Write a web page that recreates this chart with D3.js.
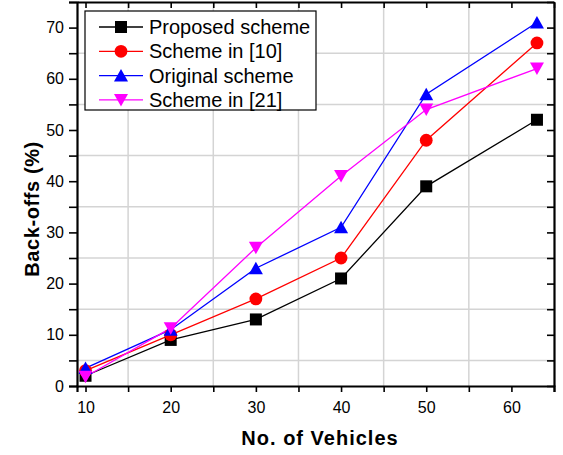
<!DOCTYPE html>
<html>
<head>
<meta charset="utf-8">
<script src="https://cdn.jsdelivr.net/npm/d3@7"></script>
<style>
  body { margin: 0; background: #fff; }
  text { font-family: "Liberation Sans", Arial, sans-serif; }
</style>
</head>
<body>
<div id="chart"></div>
<script>
const W = 563, H = 455;
const m = {l: 77, r: 9, t: 2, b: 69};

// data
const vehicles = [10, 20, 30, 40, 50, 63];
const proposed = [2, 9, 13, 21, 39, 52];
const scheme10 = [3, 10, 17, 25, 48, 67];
const original = [3.5, 11, 23, 31, 57, 71];
const scheme21 = [1.8, 11.3, 27, 41, 54, 62];
const xTicks = [10, 20, 30, 40, 50, 60];
const yTicks = [0, 10, 20, 30, 40, 50, 60, 70];

const series = [
  {name: "Proposed scheme", values: proposed, color: "#000000", shape: "square"},
  {name: "Scheme in [10]", values: scheme10, color: "#ff0000", shape: "circle"},
  {name: "Original scheme", values: original, color: "#0000ff", shape: "up"},
  {name: "Scheme in [21]", values: scheme21, color: "#ff00ff", shape: "down"}
];

const svg = d3.select("#chart").append("svg").attr("width", W).attr("height", H);

const x = d3.scaleLinear().domain([9, 65]).range([m.l, W - m.r]);
const y = d3.scaleLinear().domain([0, 75]).range([H - m.b, m.t]);

const minorX = d3.range(15, 65, 10);
const minorY = d3.range(5, 75, 10);
const allX = d3.range(10, 66, 5);
const allY = d3.range(0, 76, 5);

// grid (only on the in-between ticks, like the original)
const grid = svg.append("g").attr("stroke", "#d4d4d4").attr("stroke-width", 1.5);
grid.selectAll(".gx").data(minorX).join("line")
  .attr("x1", d => x(d)).attr("x2", d => x(d))
  .attr("y1", y(75)).attr("y2", y(0));
grid.selectAll(".gy").data(minorY).join("line")
  .attr("x1", x(9)).attr("x2", x(65))
  .attr("y1", d => y(d)).attr("y2", d => y(d));

// axes
const fmt = d => xTicks.includes(d) ? d : "";
const fmtY = d => yTicks.includes(d) ? d : "";

const gb = svg.append("g").attr("transform", `translate(0,${y(0)})`)
  .call(d3.axisBottom(x).tickValues(allX).tickFormat(fmt).tickSize(6).tickPadding(10));
const gl = svg.append("g").attr("transform", `translate(${x(9)},0)`)
  .call(d3.axisLeft(y).tickValues(allY).tickFormat(fmtY).tickSize(8).tickPadding(5));
const gt = svg.append("g").attr("transform", `translate(0,${y(75)})`)
  .call(d3.axisTop(x).tickValues(allX).tickFormat("").tickSizeInner(-6).tickSizeOuter(0));
const gr = svg.append("g").attr("transform", `translate(${x(65)},0)`)
  .call(d3.axisRight(y).tickValues(allY).tickFormat("").tickSizeInner(-7).tickSizeOuter(0));

[gb, gl, gt, gr].forEach(g => {
  g.select(".domain").attr("stroke", "#000").attr("stroke-width", 2.2);
  g.selectAll(".tick line").attr("stroke", "#000").attr("stroke-width", 1.6);
  g.selectAll(".tick text").attr("fill", "#000").style("font-size", "16px")
    .style("font-family", '"Liberation Sans", Arial, sans-serif');
});

// lines + markers
const line = d3.line().x((d, i) => x(vehicles[i])).y(d => y(d));

function marker(g, shape, color) {
  if (shape === "square") {
    g.append("rect").attr("x", -6).attr("y", -6)
      .attr("width", 12).attr("height", 12).attr("fill", color);
  } else if (shape === "circle") {
    g.append("circle").attr("r", 6.4).attr("fill", color);
  } else {
    const tri = shape === "up" ? "M0,-6.5L7,6L-7,6Z" : "M0,6.5L7,-6L-7,-6Z";
    g.append("path").attr("d", tri).attr("fill", color);
  }
}

const plot = svg.append("g");
series.forEach(s => {
  plot.append("path").datum(s.values).attr("d", line)
    .attr("fill", "none").attr("stroke", s.color).attr("stroke-width", 1.3);
});
series.forEach(s => {
  s.values.forEach((v, i) => {
    const g = plot.append("g").attr("transform", `translate(${x(vehicles[i])},${y(v)})`);
    marker(g, s.shape, s.color);
  });
});

// legend
const leg = svg.append("g").attr("transform", "translate(85,11)");
leg.append("rect").attr("width", 231).attr("height", 99)
  .attr("fill", "#fff").attr("stroke", "#000").attr("stroke-width", 1.2);
series.forEach((s, i) => {
  const row = leg.append("g").attr("transform", `translate(0,${16 + i * 24.3})`);
  row.append("line").attr("x1", 14).attr("x2", 58)
    .attr("stroke", s.color).attr("stroke-width", 1.3);
  const mg = row.append("g").attr("transform", "translate(36,0)");
  marker(mg, s.shape, s.color);
  row.append("text").attr("x", 64).attr("y", 7).style("font-size", "20px")
    .attr("fill", "#000").text(s.name);
});

// titles
svg.append("text").attr("x", 320).attr("y", 445)
  .attr("text-anchor", "middle").style("font-size", "20px").style("font-weight", "bold")
  .style("letter-spacing", "1px")
  .text("No. of Vehicles");
svg.append("text").attr("transform", "translate(39,209) rotate(-90)")
  .attr("text-anchor", "middle").style("font-size", "20px").style("font-weight", "bold")
  .style("letter-spacing", "0.6px")
  .text("Back-offs (%)");
</script>
</body>
</html>
